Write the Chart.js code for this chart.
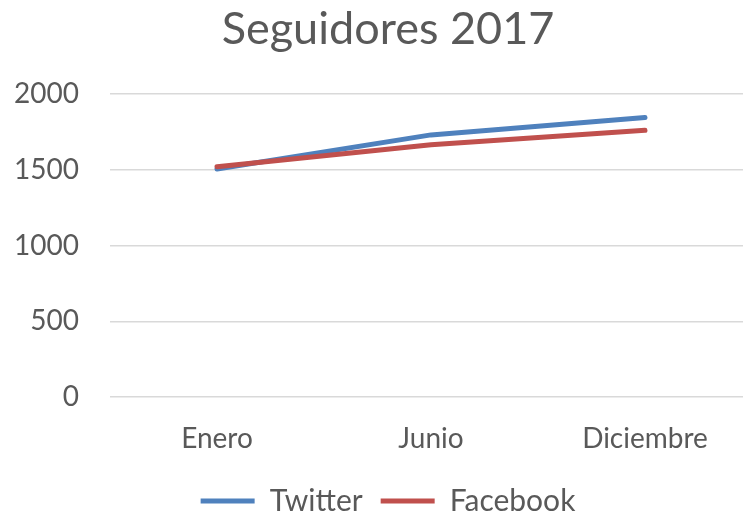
<!DOCTYPE html>
<html>
<head>
<meta charset="utf-8">
<script src="https://cdn.jsdelivr.net/npm/chart.js@4/dist/chart.umd.min.js"></script>
<style>
  html, body { margin: 0; padding: 0; background: #fff; overflow: hidden; width: 743px; height: 514px; }
  #wrap { width: 776px; height: 514px; }
</style>
</head>
<body>
<div id="wrap"><canvas id="c" width="776" height="514"></canvas></div>
<script>
const categories = ["Enero", "Junio", "Diciembre"];
const twitter = [1505, 1730, 1845];
const facebook = [1520, 1665, 1760];
const yTicks = [0, 500, 1000, 1500, 2000];

const textColor = "#595959";
const fontFamily = "Lato, 'Open Sans', sans-serif";

// let the y tick labels use the space left of the axis box (no clipping)
const widenYLabelArea = {
  id: "widenYLabelArea",
  afterLayout(chart) { chart.scales.y.left = 0; }
};

new Chart(document.getElementById("c"), {
  type: "line",
  data: {
    labels: categories,
    datasets: [
      { label: "Twitter", data: twitter, borderColor: "#4F81BD", backgroundColor: "#4F81BD",
        borderWidth: 5, pointRadius: 0, borderCapStyle: "round", borderJoinStyle: "round", tension: 0, order: 1 },
      { label: "Facebook", data: facebook, borderColor: "#C0504D", backgroundColor: "#C0504D",
        borderWidth: 5, pointRadius: 0, borderCapStyle: "round", borderJoinStyle: "round", tension: 0, order: 0 }
    ]
  },
  plugins: [widenYLabelArea],
  options: {
    responsive: false,
    animation: false,
    layout: { padding: { left: 24, right: 24, top: 0, bottom: -12 } },
    plugins: {
      title: {
        display: true, text: "Seguidores 2017", color: textColor,
        font: { family: fontFamily, size: 45, weight: "normal" },
        padding: { top: 2, bottom: 38 }
      },
      legend: {
        position: "bottom",
        labels: {
          color: textColor,
          font: { family: fontFamily, size: 30 },
          usePointStyle: true, pointStyle: "line", pointStyleWidth: 54,
          padding: 18,
          sort: (a, b) => a.datasetIndex - b.datasetIndex
        }
      },
      tooltip: { enabled: false }
    },
    scales: {
      x: {
        offset: true,
        grid: { display: false },
        border: { display: false },
        ticks: { color: textColor, font: { family: fontFamily, size: 28 }, padding: 17, maxRotation: 0 },
        afterFit: s => { s.height = 71; }
      },
      y: {
        min: 0, max: 2000,
        afterBuildTicks: s => { s.ticks = yTicks.map(v => ({ value: v })); },
        grid: { color: "#D9D9D9", lineWidth: 1.5, drawTicks: false },
        border: { display: false },
        ticks: { color: textColor, font: { family: fontFamily, size: 28 }, padding: 31,
                 callback: v => String(v) },
        afterFit: s => { s.width = 86; }
      }
    }
  }
});
</script>
</body>
</html>
